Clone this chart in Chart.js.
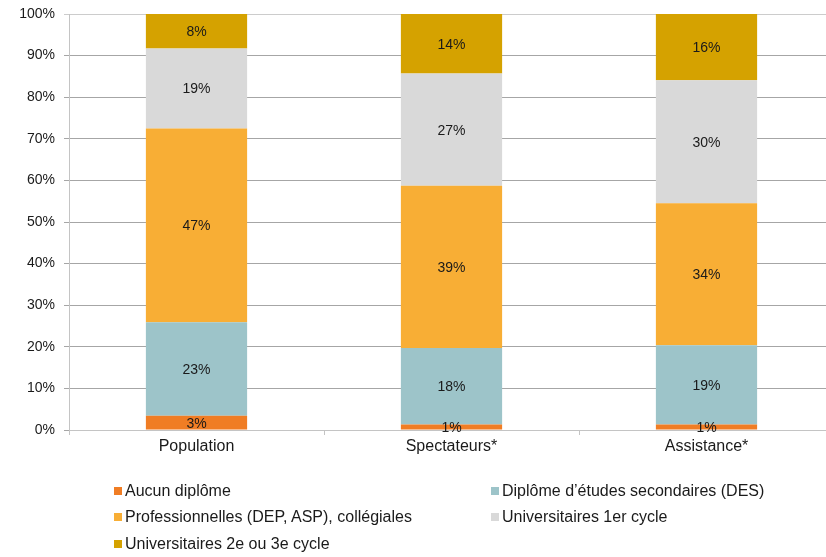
<!DOCTYPE html>
<html>
<head>
<meta charset="utf-8">
<script src="https://cdn.jsdelivr.net/npm/chart.js@4"></script>
<style>
  html, body { margin: 0; padding: 0; overflow: hidden; background: #fff; }
  #wrap { position: relative; width: 834px; height: 557px; }
  #legend { position: absolute; left: 0; top: 0; font-family: "Liberation Sans", Arial, sans-serif; font-size: 16px; color: #1a1a1a; }
  .item { position: absolute; white-space: nowrap; line-height: 18px; }
  .item i { position: absolute; left: -11px; top: 5px; width: 8px; height: 8px; }
</style>
</head>
<body>
<div id="wrap">
  <canvas id="myChart" width="834" height="557"></canvas>
  <div id="legend"></div>
</div>
<script>
var categories = ["Population", "Spectateurs*", "Assistance*"]
var aucun = [3.4, 1.3, 1.3]
var des = [22.5, 18.4, 19.1]
var professionnelles = [46.6, 39.0, 34.1]
var univ1 = [19.2, 27.0, 29.6]
var univ2 = [8.3, 14.3, 15.9]
var seriesNames = ["Aucun diplôme", "Diplôme d’études secondaires (DES)", "Professionnelles (DEP, ASP), collégiales", "Universitaires 1er cycle", "Universitaires 2e ou 3e cycle"]
var colors = ["#F07D24", "#9DC4C9", "#F8AE35", "#D9D9D9", "#D5A200"]

var font = "'Liberation Sans', Arial, sans-serif"

// values drawn in the middle of each segment
var segLabels = {
    id: "segLabels",
    afterDatasetsDraw: function(chart){
        var ctx = chart.ctx
        ctx.save()
        ctx.font = "14px " + font
        ctx.fillStyle = "#1a1a1a"
        ctx.textAlign = "center"
        ctx.textBaseline = "middle"
        chart.data.datasets.forEach(function(ds, i){
            chart.getDatasetMeta(i).data.forEach(function(bar, j){
                ctx.fillText(Math.round(ds.data[j]) + "%", bar.x, (bar.y + bar.base) / 2 + 1)
            })
        })
        ctx.restore()
    }
}

var data = [aucun, des, professionnelles, univ1, univ2]
var chart = new Chart(document.getElementById("myChart").getContext("2d"), {
    type: "bar",
    data: {
        labels: categories,
        datasets: data.map(function(d, i){
            return { label: seriesNames[i], data: d, backgroundColor: colors[i], borderWidth: 0,
                     barPercentage: 0.397, categoryPercentage: 1 }
        })
    },
    options: {
        responsive: false,
        animation: false,
        layout: { padding: { top: 14, right: 0, left: 0, bottom: 0 } },
        plugins: { legend: { display: false }, tooltip: { enabled: false } },
        scales: {
            x: {
                stacked: true,
                grid: { drawOnChartArea: false, drawTicks: true, tickLength: 5, offset: true, color: "#c4c4c4" },
                border: { color: "#c4c4c4" },
                ticks: { color: "#1a1a1a", font: { family: font, size: 16 }, padding: 2 },
                afterFit: function(s){ s.height = 127 }
            },
            y: {
                stacked: true,
                min: 0, max: 100,
                grid: { tickLength: 5, color: function(c){ return c.tick && c.tick.value === 100 ? "#cccccc" : "#a6a6a6" } },
                border: { color: "#c4c4c4" },
                ticks: { stepSize: 10, color: "#1a1a1a", font: { family: font, size: 14 }, padding: 9,
                         callback: function(v){ return v + "%" } },
                afterFit: function(s){ s.width = 69; s.paddingTop = 0; s.paddingBottom = 0 }
            }
        }
    },
    plugins: [segLabels]
})

// legend in two columns
var pos = [[125, 482], [502, 482], [125, 508], [502, 508], [125, 535]]
var legend = document.getElementById("legend")
seriesNames.forEach(function(name, i){
    var el = document.createElement("div")
    el.className = "item"
    el.style.left = pos[i][0] + "px"
    el.style.top = pos[i][1] + "px"
    el.innerHTML = '<i style="background:' + colors[i] + '"></i>' + name
    legend.appendChild(el)
})
</script>
</body>
</html>
